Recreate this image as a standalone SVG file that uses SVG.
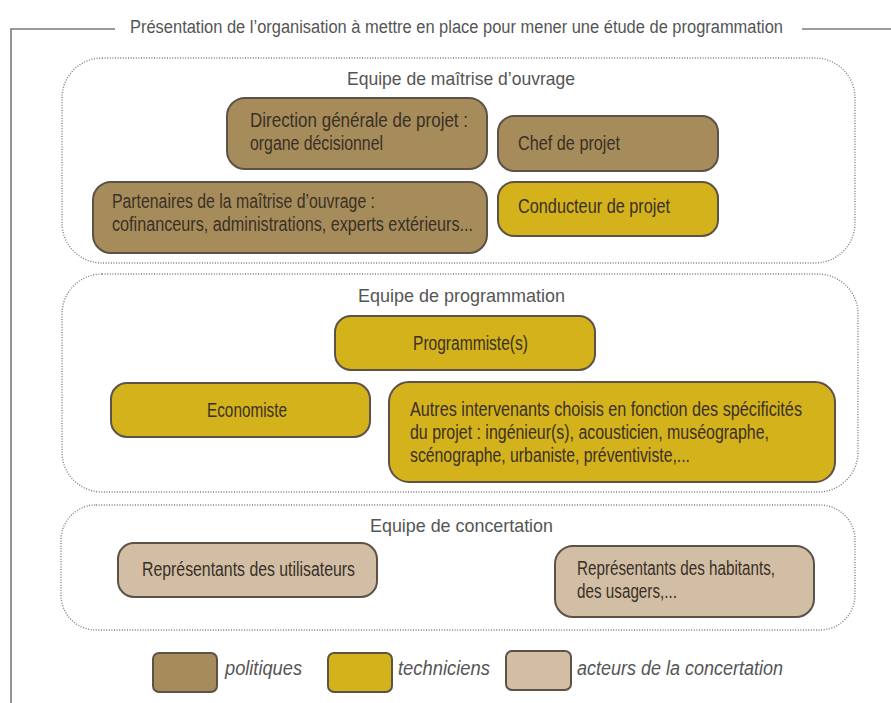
<svg xmlns="http://www.w3.org/2000/svg" width="891" height="703" viewBox="0 0 891 703">
  <style>
    .frame { fill: none; stroke: #7a7a7a; stroke-width: 1.6; }
    .team { fill: none; stroke: #7c7c7c; stroke-width: 1.4; stroke-dasharray: 1 1.6; }
    .box { stroke: #5c5248; stroke-width: 2; }
    .pol { fill: #a68c5a; }
    .tech { fill: #d4b21b; }
    .conc { fill: #d1bea5; }
    text { font-family: "Liberation Sans", Arial, sans-serif; }
    .title { font-size: 18px; fill: #555555; }
    .team-label { font-size: 19px; fill: #555555; }
    .label { font-size: 20px; fill: #3a3026; }
    .legend { font-size: 20px; fill: #555555; font-style: italic; }
  </style>

  <!-- outer frame with title -->
  <g id="frame">
    <path class="frame" d="M11,703 V29 H115"/>
    <path class="frame" d="M802,29 H891"/>
    <text class="title" x="130" y="33" textLength="653" lengthAdjust="spacingAndGlyphs">Présentation de l’organisation à mettre en place pour mener une étude de programmation</text>
  </g>

  <!-- team containers -->
  <g id="team-moa">
    <rect class="team" x="62" y="58" width="793" height="205" rx="40"/>
    <text class="team-label" x="347" y="85" textLength="228" lengthAdjust="spacingAndGlyphs">Equipe de maîtrise d’ouvrage</text>
  </g>
  <g id="team-prog">
    <rect class="team" x="62" y="274" width="796" height="218" rx="40"/>
    <text class="team-label" x="358" y="302" textLength="207" lengthAdjust="spacingAndGlyphs">Equipe de programmation</text>
  </g>
  <g id="team-conc">
    <rect class="team" x="61" y="505" width="794" height="125" rx="35"/>
    <text class="team-label" x="370" y="532" textLength="183" lengthAdjust="spacingAndGlyphs">Equipe de concertation</text>
  </g>

  <!-- maîtrise d'ouvrage -->
  <g id="direction">
    <rect class="box pol" x="227" y="98" width="260" height="71" rx="18"/>
    <text class="label" x="250" y="127" textLength="218" lengthAdjust="spacingAndGlyphs">Direction générale de projet :</text>
    <text class="label" x="250" y="150" textLength="133" lengthAdjust="spacingAndGlyphs">organe décisionnel</text>
  </g>
  <g id="chef">
    <rect class="box pol" x="498" y="116" width="220" height="55" rx="16"/>
    <text class="label" x="518" y="150" textLength="102" lengthAdjust="spacingAndGlyphs">Chef de projet</text>
  </g>
  <g id="partenaires">
    <rect class="box pol" x="93" y="182" width="394" height="71" rx="18"/>
    <text class="label" x="112" y="208" textLength="263" lengthAdjust="spacingAndGlyphs">Partenaires de la maîtrise d’ouvrage :</text>
    <text class="label" x="112" y="231" textLength="361" lengthAdjust="spacingAndGlyphs">cofinanceurs, administrations, experts extérieurs...</text>
  </g>
  <g id="conducteur">
    <rect class="box tech" x="498" y="182" width="220" height="54" rx="16"/>
    <text class="label" x="518" y="213" textLength="152" lengthAdjust="spacingAndGlyphs">Conducteur de projet</text>
  </g>

  <!-- programmation -->
  <g id="programmiste">
    <rect class="box tech" x="335" y="316" width="260" height="54" rx="16"/>
    <text class="label" x="413" y="350" textLength="115" lengthAdjust="spacingAndGlyphs">Programmiste(s)</text>
  </g>
  <g id="economiste">
    <rect class="box tech" x="111" y="383" width="259" height="54" rx="16"/>
    <text class="label" x="207" y="417" textLength="80" lengthAdjust="spacingAndGlyphs">Economiste</text>
  </g>
  <g id="autres">
    <rect class="box tech" x="389" y="382" width="446" height="100" rx="20"/>
    <text class="label" x="410" y="416" textLength="392" lengthAdjust="spacingAndGlyphs">Autres intervenants choisis en fonction des spécificités</text>
    <text class="label" x="410" y="439" textLength="359" lengthAdjust="spacingAndGlyphs">du projet : ingénieur(s), acousticien, muséographe,</text>
    <text class="label" x="410" y="462" textLength="280" lengthAdjust="spacingAndGlyphs">scénographe, urbaniste, préventiviste,...</text>
  </g>

  <!-- concertation -->
  <g id="utilisateurs">
    <rect class="box conc" x="118" y="543" width="259" height="54" rx="16"/>
    <text class="label" x="142" y="576" textLength="213" lengthAdjust="spacingAndGlyphs">Représentants des utilisateurs</text>
  </g>
  <g id="habitants">
    <rect class="box conc" x="555" y="546" width="259" height="71" rx="18"/>
    <text class="label" x="577" y="575" textLength="198" lengthAdjust="spacingAndGlyphs">Représentants des habitants,</text>
    <text class="label" x="577" y="598" textLength="100" lengthAdjust="spacingAndGlyphs">des usagers,...</text>
  </g>

  <!-- legend -->
  <g id="legend">
    <rect class="box pol" x="153" y="653" width="64" height="39" rx="6"/>
    <text class="legend" x="225" y="675" textLength="77" lengthAdjust="spacingAndGlyphs">politiques</text>
    <rect class="box tech" x="328" y="653" width="64" height="39" rx="6"/>
    <text class="legend" x="398" y="675" textLength="92" lengthAdjust="spacingAndGlyphs">techniciens</text>
    <rect class="box conc" x="506" y="651" width="65" height="39" rx="6"/>
    <text class="legend" x="577" y="675" textLength="206" lengthAdjust="spacingAndGlyphs">acteurs de la concertation</text>
  </g>
</svg>
